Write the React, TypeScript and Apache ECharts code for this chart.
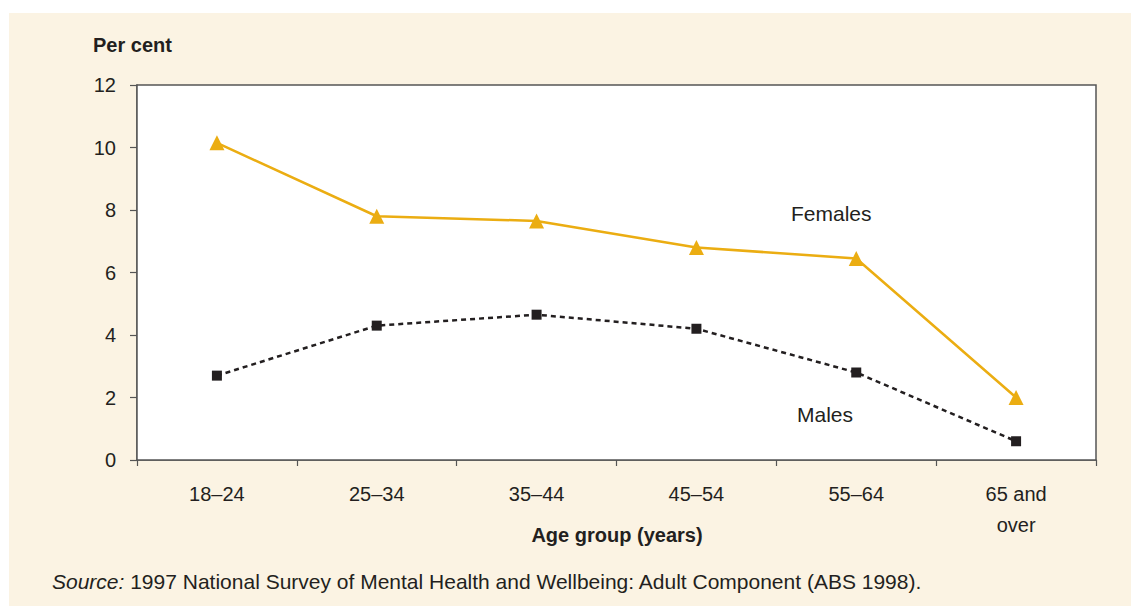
import React, { useEffect, useRef } from "react";
import * as echarts from "echarts";

const categories = ["18–24", "25–34", "35–44", "45–54", "55–64", "65 and\nover"];
const females = [10.15, 7.8, 7.65, 6.8, 6.45, 2.0];
const males = [2.7, 4.3, 4.65, 4.2, 2.8, 0.6];
const yTicks = { min: 0, max: 12, interval: 2 };

const FONT = "'Liberation Sans', Arial, sans-serif";
const GOLD = "#EBAD12";
const DARK = "#231f20";
const FS = 21;

export default function App() {
  const ref = useRef<HTMLDivElement>(null);
  useEffect(() => {
    if (!ref.current) return;
    const chart = echarts.init(ref.current, null, { renderer: "svg" });
    chart.setOption({
      animation: false,
      backgroundColor: "#ffffff",
      textStyle: { fontFamily: FONT },
      grid: {
        left: 137,
        top: 85,
        width: 959,
        height: 375,
        show: true,
        backgroundColor: "#ffffff",
        borderColor: "#555555",
        borderWidth: 1.5,
        z: 1,
      },
      graphic: [
        {
          type: "rect",
          z: -10,
          silent: true,
          shape: { x: 9, y: 13, width: 1122, height: 593 },
          style: { fill: "#FBF3E3" },
        },
        {
          type: "text",
          x: 93,
          y: 45,
          style: {
            text: "Per cent",
            fontFamily: FONT,
            fontSize: FS - 1,
            fontWeight: "bold",
            fill: DARK,
            verticalAlign: "middle",
          },
        },
        {
          type: "text",
          x: 617,
          y: 535,
          style: {
            text: "Age group (years)",
            fontFamily: FONT,
            fontSize: FS - 1,
            fontWeight: "bold",
            fill: DARK,
            align: "center",
            verticalAlign: "middle",
          },
        },
        {
          type: "text",
          x: 791,
          y: 213,
          z: 10,
          style: {
            text: "Females",
            fontFamily: FONT,
            fontSize: FS,
            fill: DARK,
            verticalAlign: "middle",
          },
        },
        {
          type: "text",
          x: 797,
          y: 414,
          z: 10,
          style: {
            text: "Males",
            fontFamily: FONT,
            fontSize: FS,
            fill: DARK,
            verticalAlign: "middle",
          },
        },
        {
          type: "text",
          x: 52,
          y: 581,
          style: {
            text: "{i|Source:} 1997 National Survey of Mental Health and Wellbeing: Adult Component (ABS 1998).",
            fontFamily: FONT,
            fontSize: FS,
            fill: DARK,
            verticalAlign: "middle",
            rich: {
              i: { fontStyle: "italic", fontSize: FS, fontFamily: FONT, fill: DARK },
            },
          },
        },
      ],
      xAxis: {
        type: "category",
        data: categories,
        boundaryGap: true,
        axisLine: { show: true, lineStyle: { color: "#555555", width: 1.5 } },
        axisTick: { show: true, length: 6, lineStyle: { color: "#555555", width: 1.2 } },
        axisLabel: {
          color: DARK,
          fontSize: FS - 1,
          fontFamily: FONT,
          margin: 18,
          lineHeight: 31,
          verticalAlign: "top",
        },
        splitLine: { show: false },
      },
      yAxis: {
        type: "value",
        min: yTicks.min,
        max: yTicks.max,
        interval: yTicks.interval,
        axisLine: { show: true, lineStyle: { color: "#555555", width: 1.5 } },
        axisTick: { show: true, length: 7, lineStyle: { color: "#555555", width: 1.2 } },
        axisLabel: { color: DARK, fontSize: FS - 1, fontFamily: FONT, margin: 21 },
        splitLine: { show: false },
      },
      series: [
        {
          name: "Females",
          type: "line",
          data: females,
          symbol: "triangle",
          symbolSize: 15,
          itemStyle: { color: GOLD },
          lineStyle: { color: GOLD, width: 2.5 },
          z: 3,
        },
        {
          name: "Males",
          type: "line",
          data: males,
          symbol: "rect",
          symbolSize: 10,
          itemStyle: { color: DARK },
          lineStyle: { color: DARK, width: 2.5, type: [5, 4] },
          z: 2,
        },
      ],
    });
    return () => chart.dispose();
  }, []);
  return (
    <div
      ref={ref}
      style={{ position: "absolute", left: 0, top: 0, width: 1131, height: 606 }}
    />
  );
}
